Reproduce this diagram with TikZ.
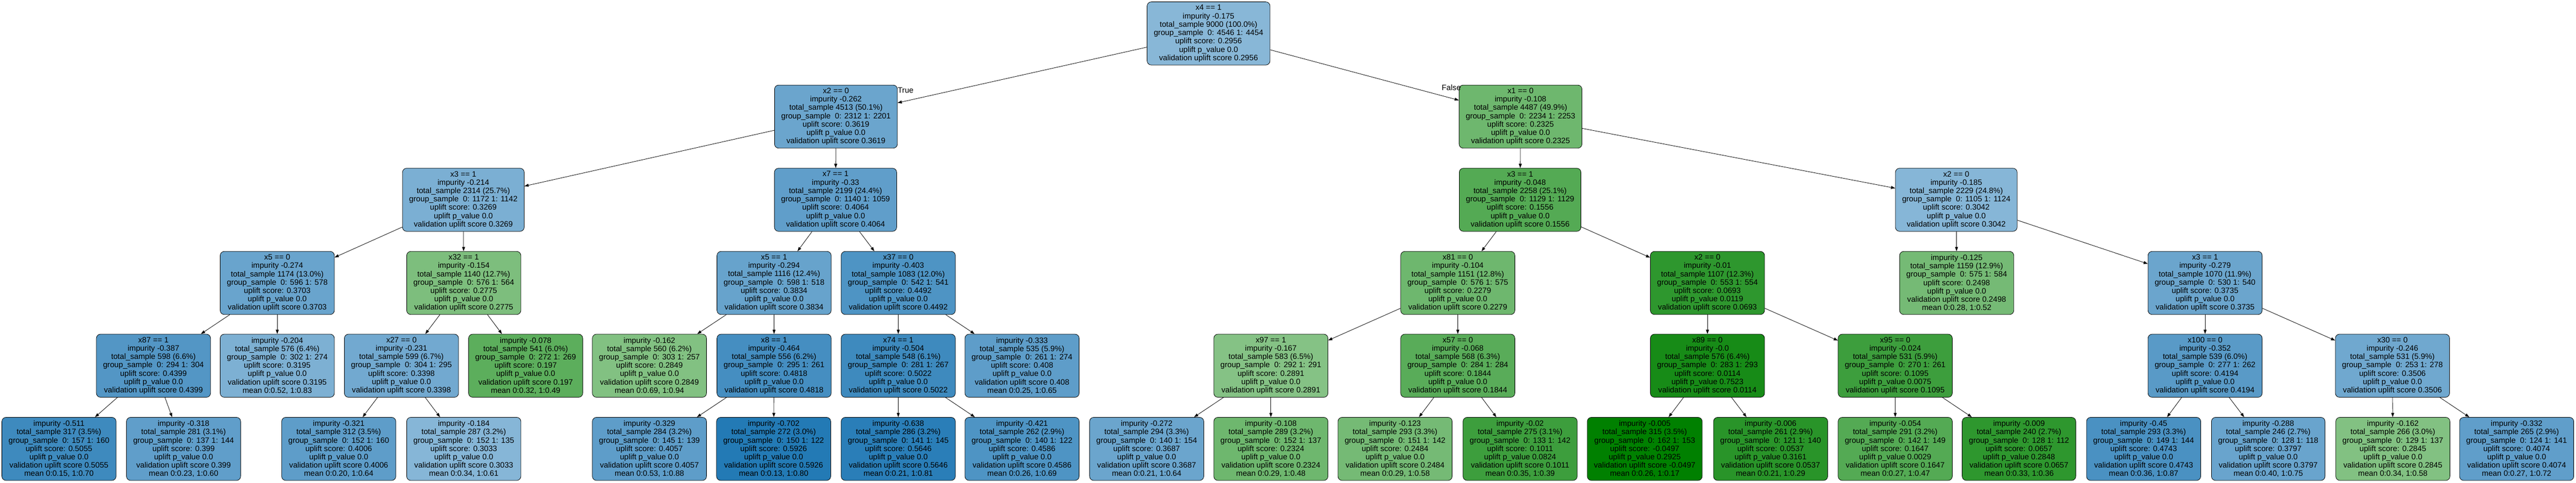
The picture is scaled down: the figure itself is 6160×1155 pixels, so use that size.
\documentclass[tikz,border=0pt]{standalone}
\usepackage{fontspec}
\setmainfont{Liberation Sans}
\usepackage{tikz}
\usetikzlibrary{arrows.meta}
\definecolor{ublue}{HTML}{1F77B4}
\definecolor{ugreen}{HTML}{008000}
\tikzset{
    tbox/.style={draw=black, line width=0.5pt, rounded corners=5pt, align=center,
        inner xsep=8pt, minimum height=75.5pt, font=\fontsize{9.33}{10}\selectfont},
    bnode/.style={tbox, fill=ublue!#1},
    gnode/.style={tbox, fill=ugreen!#1},
    lbl/.style={inner sep=0pt, font=\fontsize{9.33}{10}\selectfont},
    arr/.style={-{Triangle[length=5pt,width=3.5pt]}, line width=0.5pt}
}

\begin{document}
\begin{tikzpicture}[x=0.5pt,y=-0.5pt]
    \fill [white] (0,0) rectangle (6160,1155);
    \useasboundingbox (0,0) rectangle (6160,1155);

    % root and first split
    \node (r) [bnode=53] at (2890,80) {x4 == 1\\impurity -0.175\\total\_sample 9000 (100.0\%)\\group\_sample\ \ 0: 4546 1: 4454\\uplift score: 0.2956\\uplift p\_value 0.0\\validation uplift score 0.2956};
    \node (n1l) [bnode=66] at (1999,279) {x2 == 0\\impurity -0.262\\total\_sample 4513 (50.1\%)\\group\_sample\ \ 0: 2312 1: 2201\\uplift score: 0.3619\\uplift p\_value 0.0\\validation uplift score 0.3619};
    \node (n1r) [gnode=57] at (3636,279) {x1 == 0\\impurity -0.108\\total\_sample 4487 (49.9\%)\\group\_sample\ \ 0: 2234 1: 2253\\uplift score: 0.2325\\uplift p\_value 0.0\\validation uplift score 0.2325};

    % level 2
    \node (n2a) [bnode=59] at (1108,478) {x3 == 1\\impurity -0.214\\total\_sample 2314 (25.7\%)\\group\_sample\ \ 0: 1172 1: 1142\\uplift score: 0.3269\\uplift p\_value 0.0\\validation uplift score 0.3269};
    \node (n2b) [bnode=71] at (1998,478) {x7 == 1\\impurity -0.33\\total\_sample 2199 (24.4\%)\\group\_sample\ \ 0: 1140 1: 1059\\uplift score: 0.4064\\uplift p\_value 0.0\\validation uplift score 0.4064};
    \node (n2c) [gnode=67] at (3635,478) {x3 == 1\\impurity -0.048\\total\_sample 2258 (25.1\%)\\group\_sample\ \ 0: 1129 1: 1129\\uplift score: 0.1556\\uplift p\_value 0.0\\validation uplift score 0.1556};
    \node (n2d) [bnode=54] at (4678,478) {x2 == 0\\impurity -0.185\\total\_sample 2229 (24.8\%)\\group\_sample\ \ 0: 1105 1: 1124\\uplift score: 0.3042\\uplift p\_value 0.0\\validation uplift score 0.3042};

    % level 3
    \node (n3a) [bnode=67] at (663,677) {x5 == 0\\impurity -0.274\\total\_sample 1174 (13.0\%)\\group\_sample\ \ 0: 596 1: 578\\uplift score: 0.3703\\uplift p\_value 0.0\\validation uplift score 0.3703};
    \node (n3b) [gnode=51] at (1109,677) {x32 == 1\\impurity -0.154\\total\_sample 1140 (12.7\%)\\group\_sample\ \ 0: 576 1: 564\\uplift score: 0.2775\\uplift p\_value 0.0\\validation uplift score 0.2775};
    \node (n3c) [bnode=68] at (1851,677) {x5 == 1\\impurity -0.294\\total\_sample 1116 (12.4\%)\\group\_sample\ \ 0: 598 1: 518\\uplift score: 0.3834\\uplift p\_value 0.0\\validation uplift score 0.3834};
    \node (n3d) [bnode=79] at (2148,677) {x37 == 0\\impurity -0.403\\total\_sample 1083 (12.0\%)\\group\_sample\ \ 0: 542 1: 541\\uplift score: 0.4492\\uplift p\_value 0.0\\validation uplift score 0.4492};
    \node (n3e) [gnode=57] at (3486,677) {x81 == 0\\impurity -0.104\\total\_sample 1151 (12.8\%)\\group\_sample\ \ 0: 576 1: 575\\uplift score: 0.2279\\uplift p\_value 0.0\\validation uplift score 0.2279};
    \node (n3f) [gnode=82] at (4083,677) {x2 == 0\\impurity -0.01\\total\_sample 1107 (12.3\%)\\group\_sample\ \ 0: 553 1: 554\\uplift score: 0.0693\\uplift p\_value 0.0119\\validation uplift score 0.0693};
    \node (n3g) [gnode=54] at (4679,677) {impurity -0.125\\total\_sample 1159 (12.9\%)\\group\_sample\ \ 0: 575 1: 584\\uplift score: 0.2498\\uplift p\_value 0.0\\validation uplift score 0.2498\\mean 0:0.28, 1:0.52};
    \node (n3h) [bnode=66] at (5273,677) {x3 == 1\\impurity -0.279\\total\_sample 1070 (11.9\%)\\group\_sample\ \ 0: 530 1: 540\\uplift score: 0.3735\\uplift p\_value 0.0\\validation uplift score 0.3735};

    % level 4
    \node (n4a) [bnode=77] at (367,875) {x87 == 1\\impurity -0.387\\total\_sample 598 (6.6\%)\\group\_sample\ \ 0: 294 1: 304\\uplift score: 0.4399\\uplift p\_value 0.0\\validation uplift score 0.4399};
    \node (n4b) [bnode=58] at (663,875) {impurity -0.204\\total\_sample 576 (6.4\%)\\group\_sample\ \ 0: 302 1: 274\\uplift score: 0.3195\\uplift p\_value 0.0\\validation uplift score 0.3195\\mean 0:0.52, 1:0.83};
    \node (n4c) [bnode=63] at (960,875) {x27 == 0\\impurity -0.231\\total\_sample 599 (6.7\%)\\group\_sample\ \ 0: 304 1: 295\\uplift score: 0.3398\\uplift p\_value 0.0\\validation uplift score 0.3398};
    \node (n4d) [gnode=64] at (1257,875) {impurity -0.078\\total\_sample 541 (6.0\%)\\group\_sample\ \ 0: 272 1: 269\\uplift score: 0.197\\uplift p\_value 0.0\\validation uplift score 0.197\\mean 0:0.32, 1:0.49};
    \node (n4e) [gnode=49] at (1553,875) {impurity -0.162\\total\_sample 560 (6.2\%)\\group\_sample\ \ 0: 303 1: 257\\uplift score: 0.2849\\uplift p\_value 0.0\\validation uplift score 0.2849\\mean 0:0.69, 1:0.94};
    \node (n4f) [bnode=83] at (1851,875) {x8 == 1\\impurity -0.464\\total\_sample 556 (6.2\%)\\group\_sample\ \ 0: 295 1: 261\\uplift score: 0.4818\\uplift p\_value 0.0\\validation uplift score 0.4818};
    \node (n4g) [bnode=86] at (2148,875) {x74 == 1\\impurity -0.504\\total\_sample 548 (6.1\%)\\group\_sample\ \ 0: 281 1: 267\\uplift score: 0.5022\\uplift p\_value 0.0\\validation uplift score 0.5022};
    \node (n4h) [bnode=72] at (2444,875) {impurity -0.333\\total\_sample 535 (5.9\%)\\group\_sample\ \ 0: 261 1: 274\\uplift score: 0.408\\uplift p\_value 0.0\\validation uplift score 0.408\\mean 0:0.25, 1:0.65};
    \node (n4i) [gnode=48] at (3039,875) {x97 == 1\\impurity -0.167\\total\_sample 583 (6.5\%)\\group\_sample\ \ 0: 292 1: 291\\uplift score: 0.2891\\uplift p\_value 0.0\\validation uplift score 0.2891};
    \node (n4j) [gnode=65] at (3486,875) {x57 == 0\\impurity -0.068\\total\_sample 568 (6.3\%)\\group\_sample\ \ 0: 284 1: 284\\uplift score: 0.1844\\uplift p\_value 0.0\\validation uplift score 0.1844};
    \node (n4k) [gnode=91] at (4083,875) {x89 == 0\\impurity -0.0\\total\_sample 576 (6.4\%)\\group\_sample\ \ 0: 283 1: 293\\uplift score: 0.0114\\uplift p\_value 0.7523\\validation uplift score 0.0114};
    \node (n4l) [gnode=76] at (4532,875) {x95 == 0\\impurity -0.024\\total\_sample 531 (5.9\%)\\group\_sample\ \ 0: 270 1: 261\\uplift score: 0.1095\\uplift p\_value 0.0075\\validation uplift score 0.1095};
    \node (n4m) [bnode=74] at (5273,875) {x100 == 0\\impurity -0.352\\total\_sample 539 (6.0\%)\\group\_sample\ \ 0: 277 1: 262\\uplift score: 0.4194\\uplift p\_value 0.0\\validation uplift score 0.4194};
    \node (n4n) [bnode=64] at (5721,875) {x30 == 0\\impurity -0.246\\total\_sample 531 (5.9\%)\\group\_sample\ \ 0: 253 1: 278\\uplift score: 0.3506\\uplift p\_value 0.0\\validation uplift score 0.3506};

    % level 5, all leaves
    \node (n5a) [bnode=86] at (141,1074) {impurity -0.511\\total\_sample 317 (3.5\%)\\group\_sample\ \ 0: 157 1: 160\\uplift score: 0.5055\\uplift p\_value 0.0\\validation uplift score 0.5055\\mean 0:0.15, 1:0.70};
    \node (n5b) [bnode=71] at (439,1074) {impurity -0.318\\total\_sample 281 (3.1\%)\\group\_sample\ \ 0: 137 1: 144\\uplift score: 0.399\\uplift p\_value 0.0\\validation uplift score 0.399\\mean 0:0.23, 1:0.60};
    \node (n5c) [bnode=72] at (810,1074) {impurity -0.321\\total\_sample 312 (3.5\%)\\group\_sample\ \ 0: 152 1: 160\\uplift score: 0.4006\\uplift p\_value 0.0\\validation uplift score 0.4006\\mean 0:0.20, 1:0.64};
    \node (n5d) [bnode=54] at (1109,1074) {impurity -0.184\\total\_sample 287 (3.2\%)\\group\_sample\ \ 0: 152 1: 135\\uplift score: 0.3033\\uplift p\_value 0.0\\validation uplift score 0.3033\\mean 0:0.34, 1:0.61};
    \node (n5e) [bnode=72] at (1553,1074) {impurity -0.329\\total\_sample 284 (3.2\%)\\group\_sample\ \ 0: 145 1: 139\\uplift score: 0.4057\\uplift p\_value 0.0\\validation uplift score 0.4057\\mean 0:0.53, 1:0.88};
    \node (n5f) [bnode=98] at (1850,1074) {impurity -0.702\\total\_sample 272 (3.0\%)\\group\_sample\ \ 0: 150 1: 122\\uplift score: 0.5926\\uplift p\_value 0.0\\validation uplift score 0.5926\\mean 0:0.13, 1:0.80};
    \node (n5g) [bnode=95] at (2148,1074) {impurity -0.638\\total\_sample 286 (3.2\%)\\group\_sample\ \ 0: 141 1: 145\\uplift score: 0.5646\\uplift p\_value 0.0\\validation uplift score 0.5646\\mean 0:0.21, 1:0.81};
    \node (n5h) [bnode=79] at (2444,1074) {impurity -0.421\\total\_sample 262 (2.9\%)\\group\_sample\ \ 0: 140 1: 122\\uplift score: 0.4586\\uplift p\_value 0.0\\validation uplift score 0.4586\\mean 0:0.26, 1:0.69};
    \node (n5i) [bnode=66] at (2742,1074) {impurity -0.272\\total\_sample 294 (3.3\%)\\group\_sample\ \ 0: 140 1: 154\\uplift score: 0.3687\\uplift p\_value 0.0\\validation uplift score 0.3687\\mean 0:0.21, 1:0.64};
    \node (n5j) [gnode=57] at (3039,1074) {impurity -0.108\\total\_sample 289 (3.2\%)\\group\_sample\ \ 0: 152 1: 137\\uplift score: 0.2324\\uplift p\_value 0.0\\validation uplift score 0.2324\\mean 0:0.29, 1:0.48};
    \node (n5k) [gnode=54] at (3336,1074) {impurity -0.123\\total\_sample 293 (3.3\%)\\group\_sample\ \ 0: 151 1: 142\\uplift score: 0.2484\\uplift p\_value 0.0\\validation uplift score 0.2484\\mean 0:0.29, 1:0.58};
    \node (n5l) [gnode=76] at (3635,1074) {impurity -0.02\\total\_sample 275 (3.1\%)\\group\_sample\ \ 0: 133 1: 142\\uplift score: 0.1011\\uplift p\_value 0.0824\\validation uplift score 0.1011\\mean 0:0.35, 1:0.39};
    \node (n5m) [gnode=100] at (3933,1074) {impurity -0.005\\total\_sample 315 (3.5\%)\\group\_sample\ \ 0: 162 1: 153\\uplift score: -0.0497\\uplift p\_value 0.2925\\validation uplift score -0.0497\\mean 0:0.26, 1:0.17};
    \node (n5n) [gnode=84] at (4234,1074) {impurity -0.006\\total\_sample 261 (2.9\%)\\group\_sample\ \ 0: 121 1: 140\\uplift score: 0.0537\\uplift p\_value 0.3161\\validation uplift score 0.0537\\mean 0:0.21, 1:0.29};
    \node (n5o) [gnode=67] at (4532,1074) {impurity -0.054\\total\_sample 291 (3.2\%)\\group\_sample\ \ 0: 142 1: 149\\uplift score: 0.1647\\uplift p\_value 0.0029\\validation uplift score 0.1647\\mean 0:0.27, 1:0.47};
    \node (n5p) [gnode=82] at (4828,1074) {impurity -0.009\\total\_sample 240 (2.7\%)\\group\_sample\ \ 0: 128 1: 112\\uplift score: 0.0657\\uplift p\_value 0.2848\\validation uplift score 0.0657\\mean 0:0.33, 1:0.36};
    \node (n5q) [bnode=81] at (5126,1074) {impurity -0.45\\total\_sample 293 (3.3\%)\\group\_sample\ \ 0: 149 1: 144\\uplift score: 0.4743\\uplift p\_value 0.0\\validation uplift score 0.4743\\mean 0:0.36, 1:0.87};
    \node (n5r) [bnode=67] at (5424,1074) {impurity -0.288\\total\_sample 246 (2.7\%)\\group\_sample\ \ 0: 128 1: 118\\uplift score: 0.3797\\uplift p\_value 0.0\\validation uplift score 0.3797\\mean 0:0.40, 1:0.75};
    \node (n5s) [gnode=49] at (5722,1074) {impurity -0.162\\total\_sample 266 (3.0\%)\\group\_sample\ \ 0: 129 1: 137\\uplift score: 0.2845\\uplift p\_value 0.0\\validation uplift score 0.2845\\mean 0:0.34, 1:0.58};
    \node (n5t) [bnode=71] at (6018,1074) {impurity -0.332\\total\_sample 265 (2.9\%)\\group\_sample\ \ 0: 124 1: 141\\uplift score: 0.4074\\uplift p\_value 0.0\\validation uplift score 0.4074\\mean 0:0.27, 1:0.72};

    % edges
    \draw [arr] (r) -- (n1l);
    \draw [arr] (r) -- (n1r);
    \node (ltrue) [lbl, anchor=west] at ([yshift=-6.5pt]n1l.north east) {True};
    \node (lfalse) [lbl, anchor=east] at ([xshift=2.5pt,yshift=-3pt]n1r.north west) {False};

    \draw [arr] (n1l) -- (n2a);
    \draw [arr] (n1l) -- (n2b);
    \draw [arr] (n1r) -- (n2c);
    \draw [arr] (n1r) -- (n2d);

    \draw [arr] (n2a) -- (n3a);
    \draw [arr] (n2a) -- (n3b);
    \draw [arr] (n2b) -- (n3c);
    \draw [arr] (n2b) -- (n3d);
    \draw [arr] (n2c) -- (n3e);
    \draw [arr] (n2c) -- (n3f);
    \draw [arr] (n2d) -- (n3g);
    \draw [arr] (n2d) -- (n3h);

    \draw [arr] (n3a) -- (n4a);
    \draw [arr] (n3a) -- (n4b);
    \draw [arr] (n3b) -- (n4c);
    \draw [arr] (n3b) -- (n4d);
    \draw [arr] (n3c) -- (n4e);
    \draw [arr] (n3c) -- (n4f);
    \draw [arr] (n3d) -- (n4g);
    \draw [arr] (n3d) -- (n4h);
    \draw [arr] (n3e) -- (n4i);
    \draw [arr] (n3e) -- (n4j);
    \draw [arr] (n3f) -- (n4k);
    \draw [arr] (n3f) -- (n4l);
    \draw [arr] (n3h) -- (n4m);
    \draw [arr] (n3h) -- (n4n);

    \draw [arr] (n4a) -- (n5a);
    \draw [arr] (n4a) -- (n5b);
    \draw [arr] (n4c) -- (n5c);
    \draw [arr] (n4c) -- (n5d);
    \draw [arr] (n4f) -- (n5e);
    \draw [arr] (n4f) -- (n5f);
    \draw [arr] (n4g) -- (n5g);
    \draw [arr] (n4g) -- (n5h);
    \draw [arr] (n4i) -- (n5i);
    \draw [arr] (n4i) -- (n5j);
    \draw [arr] (n4j) -- (n5k);
    \draw [arr] (n4j) -- (n5l);
    \draw [arr] (n4k) -- (n5m);
    \draw [arr] (n4k) -- (n5n);
    \draw [arr] (n4l) -- (n5o);
    \draw [arr] (n4l) -- (n5p);
    \draw [arr] (n4m) -- (n5q);
    \draw [arr] (n4m) -- (n5r);
    \draw [arr] (n4n) -- (n5s);
    \draw [arr] (n4n) -- (n5t);
\end{tikzpicture}
\end{document}
